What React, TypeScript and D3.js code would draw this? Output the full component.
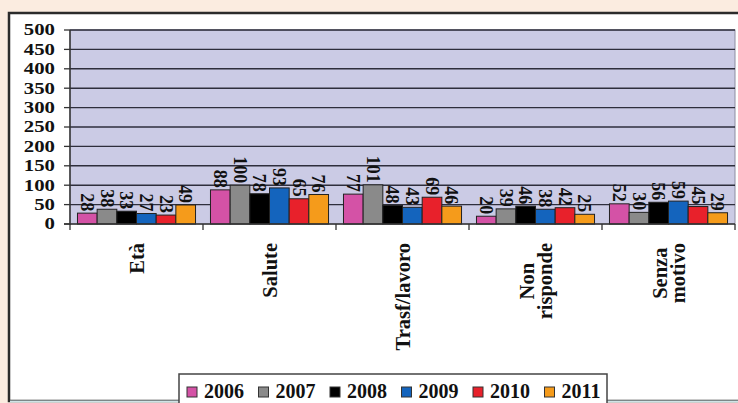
import React, { useEffect, useRef } from "react";
import * as d3 from "d3";

const categories = ["Età", "Salute", "Trasf/lavoro", "Non\nrisponde", "Senza\nmotivo"];
const years = ["2006", "2007", "2008", "2009", "2010", "2011"];
const v2006 = [28, 88, 77, 20, 52];
const v2007 = [38, 100, 101, 39, 30];
const v2008 = [33, 78, 48, 46, 56];
const v2009 = [27, 93, 43, 38, 59];
const v2010 = [23, 65, 69, 42, 45];
const v2011 = [49, 76, 46, 25, 29];
const yTicks = [0, 50, 100, 150, 200, 250, 300, 350, 400, 450, 500];
const colors = ["#d452a6", "#8a8a8a", "#000000", "#1464bd", "#e8212b", "#f59b1b"];

const series = [v2006, v2007, v2008, v2009, v2010, v2011];
const FONT = "'Liberation Serif', 'Times New Roman', serif";

export default function App() {
  const ref = useRef<SVGSVGElement>(null);
  useEffect(() => {
    const svg = d3.select(ref.current);
    svg.selectAll("*").remove();
    const W = 738, H = 403;
    const L = 70, R = 735, T = 30, B = 224;

    // background
    svg.append("rect").attr("width", W).attr("height", H).attr("fill", "#fbece0");
    svg.append("rect").attr("x", 9).attr("y", 13).attr("width", W).attr("height", 388)
      .attr("fill", "#ffffff").attr("stroke", "#2b2b2b").attr("stroke-width", 2.5);
    svg.append("line").attr("x1", 10).attr("x2", W).attr("y1", 401.5).attr("y2", 401.5)
      .attr("stroke", "#cfe3e6").attr("stroke-width", 2);

    const x = d3.scaleBand<string>().domain(categories).range([L, R]).padding(0);
    const xi = d3.scaleBand<string>().domain(years).range([0, x.bandwidth()]).paddingInner(0).paddingOuter(0.38);
    const y = d3.scaleLinear().domain([0, 500]).range([B, T]);

    // plot area
    svg.append("rect").attr("x", L).attr("y", T).attr("width", R - L).attr("height", B - T)
      .attr("fill", "#cbcbe5").attr("stroke", "#8c8ca0").attr("stroke-width", 1);

    // gridlines
    svg.append("g").selectAll("line").data(yTicks.filter((t) => t > 0)).join("line")
      .attr("x1", L).attr("x2", R).attr("y1", (d) => y(d)).attr("y2", (d) => y(d))
      .attr("stroke", "#2e2e3c").attr("stroke-width", 1.4);

    // bars
    const gBars = svg.append("g");
    categories.forEach((c, ci) => {
      years.forEach((yr, si) => {
        const v = series[si][ci];
        gBars.append("rect")
          .attr("x", (x(c) as number) + (xi(yr) as number))
          .attr("y", y(v))
          .attr("width", xi.bandwidth())
          .attr("height", y(0) - y(v))
          .attr("fill", colors[si])
          .attr("stroke", "#222").attr("stroke-width", 1);
        const cx = (x(c) as number) + (xi(yr) as number) + xi.bandwidth() / 2;
        gBars.append("text")
          .attr("transform", `translate(${cx},${y(v) - 2}) rotate(90)`)
          .attr("text-anchor", "end")
          .attr("dy", "0.35em")
          .attr("font-family", FONT).attr("font-weight", "bold").attr("font-size", 18)
          .attr("fill", "#111")
          .text(String(v));
      });
    });

    // axes lines
    svg.append("line").attr("x1", L).attr("x2", L).attr("y1", T).attr("y2", B + 1)
      .attr("stroke", "#333").attr("stroke-width", 1.5);
    svg.append("line").attr("x1", L - 6).attr("x2", R).attr("y1", B).attr("y2", B)
      .attr("stroke", "#333").attr("stroke-width", 1.5);

    // y ticks
    const gy = svg.append("g");
    yTicks.forEach((t) => {
      gy.append("line").attr("x1", L - 6).attr("x2", L).attr("y1", y(t)).attr("y2", y(t))
        .attr("stroke", "#333").attr("stroke-width", 1.3);
      gy.append("text")
        .attr("transform", `translate(55,${y(t)}) scale(1.3,1)`)
        .attr("dy", "0.34em")
        .attr("text-anchor", "end")
        .attr("font-family", FONT).attr("font-weight", "bold").attr("font-size", 16)
        .attr("fill", "#111")
        .text(String(t));
    });

    // category ticks
    const bounds = categories.map((c) => x(c) as number).concat([R]);
    svg.append("g").selectAll("line").data(bounds).join("line")
      .attr("x1", (d) => d).attr("x2", (d) => d).attr("y1", B).attr("y2", B + 6)
      .attr("stroke", "#333").attr("stroke-width", 1.3);

    // category labels
    const labTop = 243;
    categories.forEach((c) => {
      const lines = c.split("\n");
      const cx = (x(c) as number) + x.bandwidth() / 2;
      const fs = 20.5;
      const lh = 18;
      const g = svg.append("g");
      const texts = lines.map((ln) =>
        g.append("text")
          .attr("font-family", FONT).attr("font-weight", "bold").attr("font-size", fs)
          .attr("fill", "#111")
          .attr("dy", "0.35em")
          .text(ln)
      );
      const lens = texts.map((t) => (t.node() as SVGTextElement).getComputedTextLength());
      const maxLen = Math.max(...lens);
      texts.forEach((t, i) => {
        const off = (i - (lines.length - 1) / 2) * lh;
        if (lines.length === 1) {
          t.attr("text-anchor", "end").attr("transform", `translate(${cx},${labTop}) rotate(-90)`);
        } else {
          t.attr("text-anchor", "middle")
            .attr("transform", `translate(${cx + off},${labTop + maxLen / 2}) rotate(-90)`);
        }
      });
    });

    // legend
    const lg = svg.append("g");
    lg.append("rect").attr("x", 179).attr("y", 374).attr("width", 428).attr("height", 40)
      .attr("fill", "#fff").attr("stroke", "#444").attr("stroke-width", 1.5);
    years.forEach((yr, i) => {
      const lx = 187 + i * 71.5;
      lg.append("rect").attr("x", lx).attr("y", 387).attr("width", 10).attr("height", 10)
        .attr("fill", colors[i]).attr("stroke", "#333").attr("stroke-width", 1);
      lg.append("text").attr("x", lx + 17).attr("y", 398)
        .attr("font-family", FONT).attr("font-weight", "bold").attr("font-size", 20)
        .attr("fill", "#111").text(yr);
    });
  }, []);
  return (
    <svg ref={ref} width={738} height={403}
      style={{ position: "fixed", left: 0, top: 0, display: "block" }} />
  );
}
